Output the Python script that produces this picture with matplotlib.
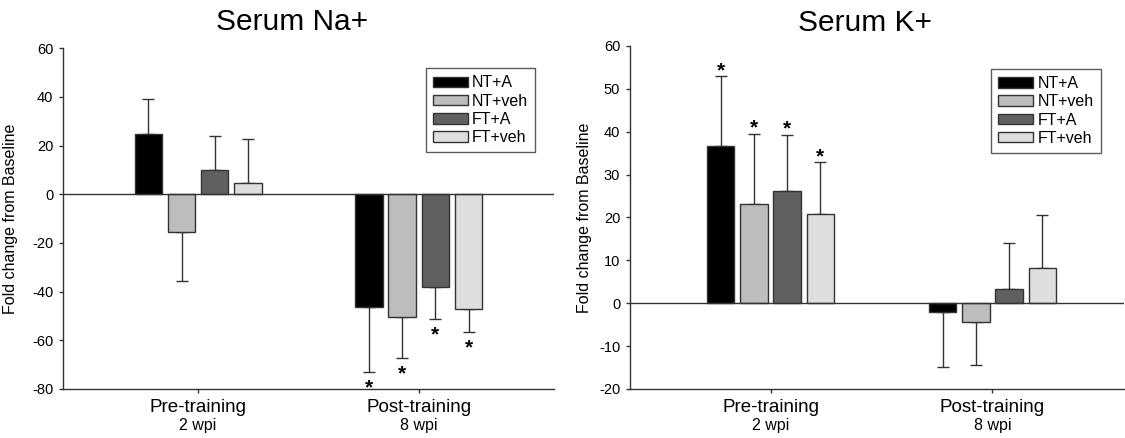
import numpy as np
import matplotlib
matplotlib.use("Agg")
import matplotlib.pyplot as plt

plt.rcParams['font.family'] = ['Liberation Sans', 'DejaVu Sans']
plt.rcParams['axes.unicode_minus'] = False

groups = ["Pre-training", "Post-training"]
sublabels = ["2 wpi", "8 wpi"]
treatments = ["NT+A", "NT+veh", "FT+A", "FT+veh"]
colors = ["#000000", "#bdbdbd", "#606060", "#dedede"]

# rows = groups (pre, post), columns = treatments
na_mean = [[24.6, -15.6, 9.9, 4.6], [-46.4, -50.5, -38.1, -47.3]]
na_sem = [[14.5, 20.1, 13.9, 18.0], [26.7, 16.9, 13.2, 9.4]]
na_sig = [[0, 0, 0, 0], [1, 1, 1, 1]]

k_mean = [[36.6, 23.1, 26.1, 20.9], [-2.0, -4.4, 3.3, 8.2]]
k_sem = [[16.3, 16.4, 13.2, 12.0], [12.9, 9.9, 10.8, 12.4]]
k_sig = [[1, 1, 1, 1], [0, 0, 0, 0]]

EDGE = "#333333"


def panel(ax, mean, sem, sig, ylim, yticks, xlim, leg_anchor):
    mean = np.array(mean)
    sem = np.array(sem)
    x = np.arange(len(groups))
    offsets = (np.arange(len(treatments)) - 1.5) * 0.15
    for j, t in enumerate(treatments):
        xs = x + offsets[j]
        vals = mean[:, j]
        errs = sem[:, j]
        ax.bar(xs, vals, width=0.125, color=colors[j], edgecolor=EDGE,
               linewidth=1, label=t, zorder=3)
        lo = np.where(vals < 0, errs, 0)
        hi = np.where(vals >= 0, errs, 0)
        ax.errorbar(xs, vals, yerr=[lo, hi], fmt="none", ecolor=EDGE,
                    elinewidth=1, capsize=4.5, capthick=1, zorder=2)
        for i in range(len(groups)):
            if sig[i][j]:
                end = vals[i] + (errs[i] if vals[i] >= 0 else -errs[i])
                dy = 0 if vals[i] >= 0 else -15
                ax.annotate("*", xy=(xs[i], end), xytext=(0, dy),
                            textcoords="offset points", ha="center",
                            va="baseline", fontsize=15, fontweight="bold")
    ax.axhline(0, color=EDGE, linewidth=1, zorder=4)
    ax.set_xlim(*xlim)
    ax.set_ylim(*ylim)
    ax.set_yticks(yticks)
    ax.set_xticks(x)
    ax.tick_params(axis="both", direction="out", length=3, width=1,
                   color=EDGE, pad=4)
    ax.tick_params(axis="y", labelsize=10.5)
    ax.tick_params(axis="x", pad=4)
    ax.set_xticklabels(groups, fontsize=13.5)
    for i, s in enumerate(sublabels):
        ax.annotate(s, xy=(x[i], 0), xycoords=ax.get_xaxis_transform(),
                    xytext=(0, -26), textcoords="offset points",
                    ha="center", va="center", fontsize=11.5)
    for sp in ["top", "right"]:
        ax.spines[sp].set_visible(False)
    for sp in ["left", "bottom"]:
        ax.spines[sp].set_color(EDGE)
        ax.spines[sp].set_linewidth(1)
    ax.set_ylabel("Fold change from Baseline", fontsize=11.5)
    leg = ax.legend(loc="upper right", bbox_to_anchor=leg_anchor,
                    fontsize=11.5, frameon=True, fancybox=False,
                    handlelength=2.2, handleheight=0.65, handletextpad=0.25,
                    labelspacing=0.2, borderpad=0.45, borderaxespad=0)
    leg.get_frame().set_edgecolor(EDGE)
    leg.get_frame().set_linewidth(1)


fig = plt.figure(figsize=(11.25, 4.38), dpi=100)
ax1 = fig.add_axes([0.056, 0.112, 0.436, 0.778])
ax2 = fig.add_axes([0.560, 0.112, 0.439, 0.783])

panel(ax1, na_mean, na_sem, na_sig, (-80, 60), np.arange(-80, 61, 20),
      (-0.612, 1.61), (0.963, 0.941))
panel(ax2, k_mean, k_sem, k_sig, (-20, 60), np.arange(-20, 61, 10),
      (-0.633, 1.592), (0.953, 0.933))
ax1.yaxis.set_label_coords(-0.0925, 0.5)
ax2.yaxis.set_label_coords(-0.077, 0.5)

fig.text(0.26, 1 - 22.5 / 438, "Serum Na+", ha="center", va="center", fontsize=21.5)
fig.text(0.769, 1 - 23 / 438, "Serum K+", ha="center", va="center", fontsize=21.5)

fig.savefig("out.png", dpi=100)
